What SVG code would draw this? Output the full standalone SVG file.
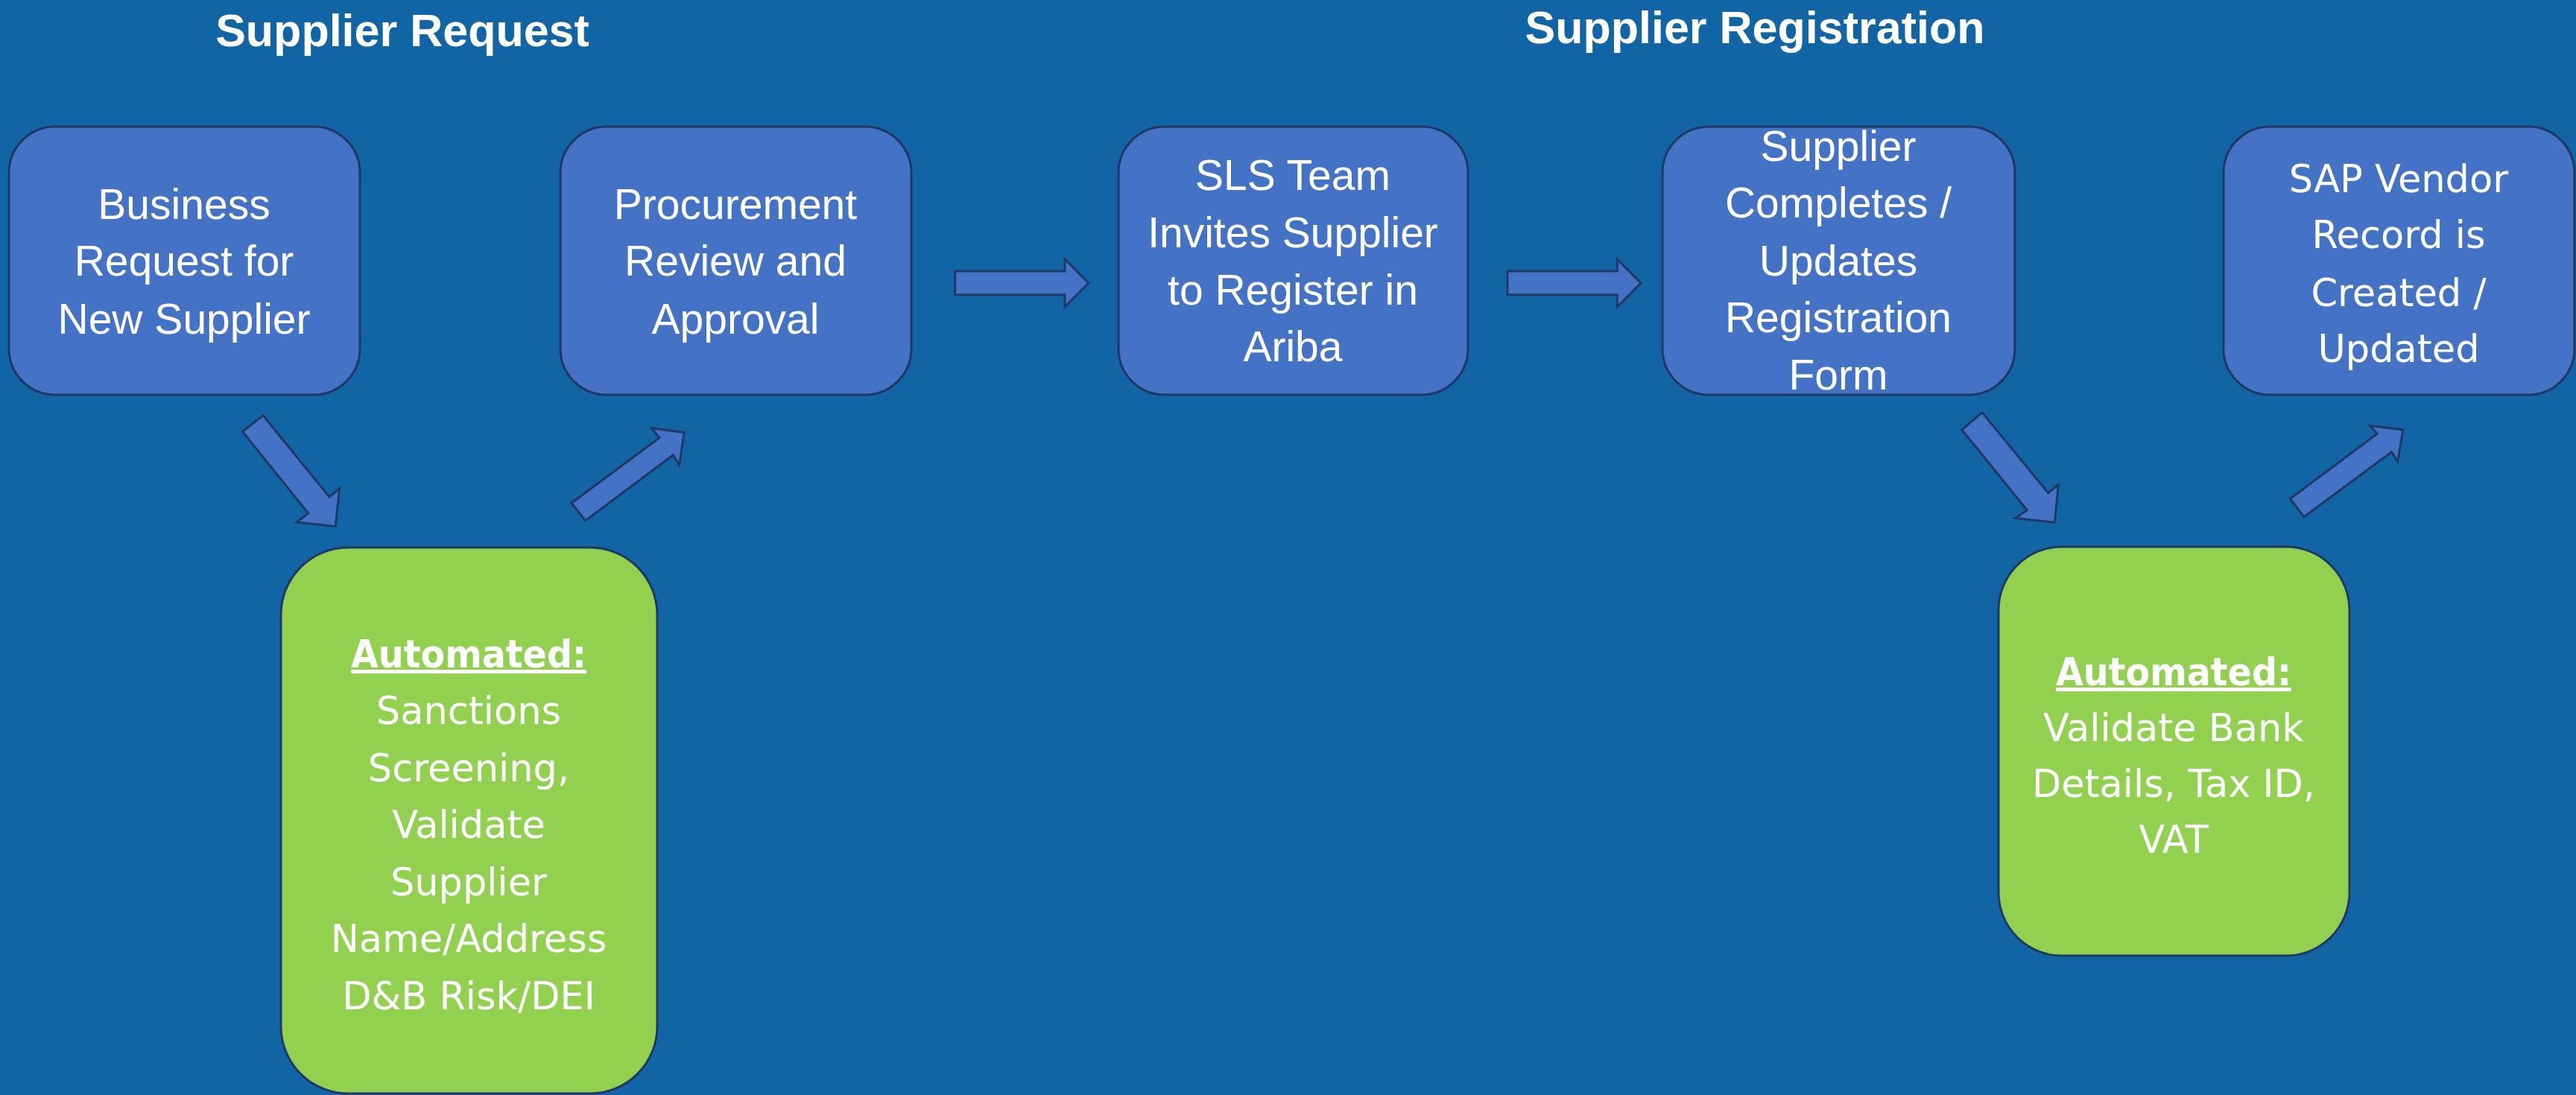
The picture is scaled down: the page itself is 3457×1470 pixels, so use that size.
<svg xmlns="http://www.w3.org/2000/svg" width="3457" height="1470" viewBox="0 0 3457 1470">
<style>
.bg{fill:#1265A4}
.step{fill:#4472C4;stroke:#1F3864;stroke-width:3}
.auto{fill:#92D050;stroke:#1F3864;stroke-width:3}
.arrow{fill:#4472C4;stroke:#1F3864;stroke-width:3;stroke-linejoin:miter}
.title{font-family:"Liberation Sans",Arial,sans-serif;font-weight:bold;font-size:61px;fill:#FFFFFF;text-anchor:middle}
.lbl{font-family:"Liberation Sans",Arial,sans-serif;font-size:57px;fill:#FFFFFF;text-anchor:middle}
.lbl2{font-family:"DejaVu Sans",Verdana,sans-serif;font-size:51px;fill:#FFFFFF;text-anchor:middle}
.hd{font-weight:bold;text-decoration:underline}
</style>
<rect class="bg" x="0" y="0" width="3457" height="1470"/>
<g id="titles">
<text class="title" x="540" y="62">Supplier Request</text>
<text class="title" x="2355" y="58">Supplier Registration</text>
</g>
<g id="connectors">
<polygon class="arrow" points="325.5,579.4 353,557.7 442,667.2 455.7,655.6 450.3,706.7 398.4,701 413.7,689.1"/>
<polygon class="arrow" points="767,675.2 885,587.7 874.5,574.8 918,580.6 911.7,624.2 903.5,610.7 785.5,699"/>
<polygon class="arrow" points="1281.7,364 1429,364 1429,348 1460.7,380 1429,412 1429,395.7 1281.7,395.7"/>
<polygon class="arrow" points="2023,364 2170.3,364 2170.3,348 2202,380 2170.3,412 2170.3,395.7 2023,395.7"/>
<polygon class="arrow" points="2632.8,576.9 2660.1,553.9 2748.7,661.8 2762.3,650.4 2757.4,701.6 2704.9,695.5 2720.3,684.8"/>
<polygon class="arrow" points="3073.4,669.5 3190.3,582.2 3180.5,571.5 3224.8,576.9 3217.7,619.7 3209.5,606.7 3091.9,694"/>
</g>
<g id="node-business-request">
<rect class="step" x="12" y="170" width="471" height="360" rx="62" ry="62"/>
<text class="lbl" x="247" y="294">Business</text>
<text class="lbl" x="247" y="370">Request for</text>
<text class="lbl" x="247" y="448">New Supplier</text>
</g>
<g id="node-procurement-review">
<rect class="step" x="752" y="170" width="471" height="360" rx="62" ry="62"/>
<text class="lbl" x="987" y="294">Procurement</text>
<text class="lbl" x="987" y="370">Review and</text>
<text class="lbl" x="987" y="448">Approval</text>
</g>
<g id="node-automated-sanctions">
<rect class="auto" x="377" y="735" width="505" height="733" rx="90" ry="90"/>
<text class="lbl2 hd" x="629" y="896" textLength="316" lengthAdjust="spacingAndGlyphs">Automated:</text>
<text class="lbl2" x="629" y="972">Sanctions</text>
<text class="lbl2" x="629" y="1049">Screening,</text>
<text class="lbl2" x="629" y="1125">Validate</text>
<text class="lbl2" x="629" y="1202">Supplier</text>
<text class="lbl2" x="629" y="1278">Name/Address</text>
<text class="lbl2" x="629" y="1355">D&amp;B Risk/DEI</text>
</g>
<g id="node-sls-invites">
<rect class="step" x="1501" y="170" width="469" height="360" rx="62" ry="62"/>
<text class="lbl" x="1735" y="255">SLS Team</text>
<text class="lbl" x="1735" y="332">Invites Supplier</text>
<text class="lbl" x="1735" y="409">to Register in</text>
<text class="lbl" x="1735" y="485">Ariba</text>
</g>
<g id="node-supplier-completes">
<rect class="step" x="2231" y="170" width="473" height="360" rx="62" ry="62"/>
<text class="lbl" x="2467" y="216">Supplier</text>
<text class="lbl" x="2467" y="292">Completes /</text>
<text class="lbl" x="2467" y="370">Updates</text>
<text class="lbl" x="2467" y="446">Registration</text>
<text class="lbl" x="2467" y="523">Form</text>
</g>
<g id="node-automated-bank">
<rect class="auto" x="2682" y="734" width="471" height="549" rx="85" ry="85"/>
<text class="lbl2 hd" x="2917" y="920" textLength="316" lengthAdjust="spacingAndGlyphs">Automated:</text>
<text class="lbl2" x="2917" y="995">Validate Bank</text>
<text class="lbl2" x="2917" y="1070">Details, Tax ID,</text>
<text class="lbl2" x="2917" y="1145">VAT</text>
</g>
<g id="node-sap-vendor">
<rect class="step" x="2984" y="170" width="471" height="360" rx="62" ry="62"/>
<text class="lbl2" x="3219" y="258">SAP Vendor</text>
<text class="lbl2" x="3219" y="333">Record is</text>
<text class="lbl2" x="3219" y="411">Created /</text>
<text class="lbl2" x="3219" y="486">Updated</text>
</g>
</svg>
